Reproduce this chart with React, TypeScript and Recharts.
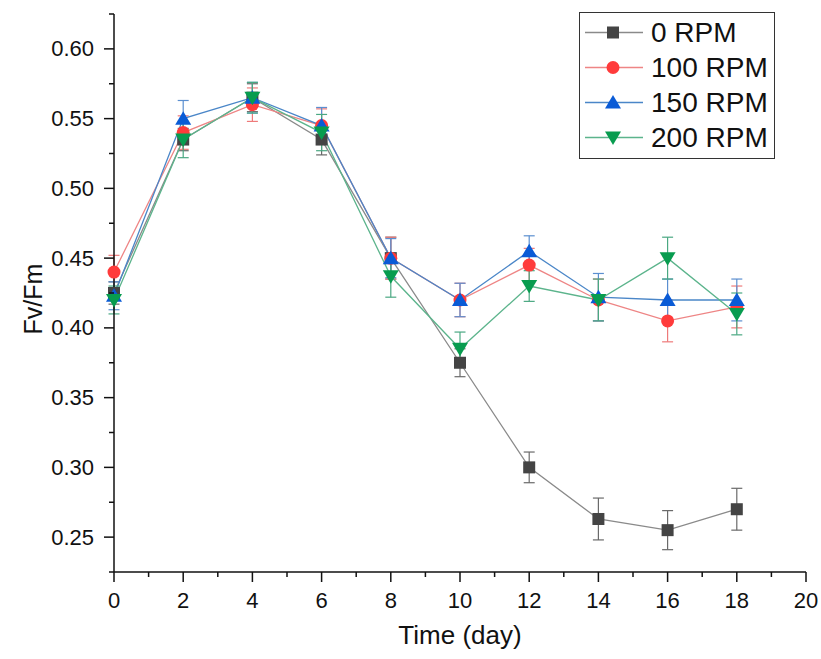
import React from 'react';
import { LineChart, Line, XAxis, YAxis, ErrorBar } from 'recharts';

// ---- data ----
const DAYS = [0, 2, 4, 6, 8, 10, 12, 14, 16, 18];

const RPM0 = [0.425, 0.535, 0.565, 0.535, 0.45, 0.375, 0.3, 0.263, 0.255, 0.27];
const RPM0_ERR = [0.008, 0.008, 0.01, 0.011, 0.015, 0.01, 0.011, 0.015, 0.014, 0.015];

const RPM100 = [0.44, 0.54, 0.56, 0.545, 0.45, 0.42, 0.445, 0.42, 0.405, 0.415];
const RPM100_ERR = [0.012, 0.012, 0.012, 0.012, 0.015, 0.012, 0.012, 0.015, 0.015, 0.015];

const RPM150 = [0.423, 0.55, 0.565, 0.545, 0.45, 0.42, 0.455, 0.422, 0.42, 0.42];
const RPM150_ERR = [0.01, 0.013, 0.011, 0.013, 0.014, 0.012, 0.011, 0.017, 0.015, 0.015];

const RPM200 = [0.42, 0.535, 0.565, 0.54, 0.437, 0.385, 0.43, 0.42, 0.45, 0.41];
const RPM200_ERR = [0.01, 0.013, 0.011, 0.013, 0.015, 0.012, 0.011, 0.015, 0.015, 0.015];

const X_MAJOR = [0, 2, 4, 6, 8, 10, 12, 14, 16, 18, 20];
const X_MINOR = [1, 3, 5, 7, 9, 11, 13, 15, 17, 19];
const Y_MAJOR = [0.25, 0.3, 0.35, 0.4, 0.45, 0.5, 0.55, 0.6];
const Y_MINOR = [0.225, 0.275, 0.325, 0.375, 0.425, 0.475, 0.525, 0.575, 0.625];

const FONT = '"Liberation Sans", Arial, sans-serif';
const INK = '#111';

const data = DAYS.map((d, i) => ({
  day: d,
  r0: RPM0[i], e0: RPM0_ERR[i],
  r100: RPM100[i], e100: RPM100_ERR[i],
  r150: RPM150[i], e150: RPM150_ERR[i],
  r200: RPM200[i], e200: RPM200_ERR[i],
}));

type Shape = 'square' | 'circle' | 'up' | 'down';

const SERIES: { key: string; err: string; name: string; shape: Shape; fill: string; line: string; bar: string }[] = [
  { key: 'r0', err: 'e0', name: '0 RPM', shape: 'square', fill: '#444', line: '#8a8a8a', bar: '#6a6a6a' },
  { key: 'r100', err: 'e100', name: '100 RPM', shape: 'circle', fill: '#ff3b3b', line: '#ee8585', bar: '#ee7a7a' },
  { key: 'r150', err: 'e150', name: '150 RPM', shape: 'up', fill: '#0a5bd6', line: '#4a86c8', bar: '#5b8fd0' },
  { key: 'r200', err: 'e200', name: '200 RPM', shape: 'down', fill: '#089c4f', line: '#5cb48c', bar: '#4aa882' },
];

const Marker = ({ cx, cy, shape, fill }: { cx: number; cy: number; shape: Shape; fill: string }) => {
  if (shape === 'square') return <rect x={cx - 6} y={cy - 6} width={12} height={12} fill={fill} />;
  if (shape === 'circle') return <circle cx={cx} cy={cy} r={6.5} fill={fill} />;
  if (shape === 'up')
    return <polygon points={`${cx},${cy - 7.5} ${cx - 8},${cy + 6} ${cx + 8},${cy + 6}`} fill={fill} />;
  return <polygon points={`${cx},${cy + 7.5} ${cx - 8},${cy - 6} ${cx + 8},${cy - 6}`} fill={fill} />;
};

const isIn = (list: number[], v: number) => list.some((t) => Math.abs(t - v) < 1e-9);

const XTick = (props: any) => {
  const { x, y, payload } = props;
  const major = isIn(X_MAJOR, payload.value);
  return (
    <g>
      <line x1={x} x2={x} y1={y} y2={y + (major ? 10 : 5)} stroke={INK} strokeWidth={1.5} />
      {major && (
        <text x={x} y={y + 36} textAnchor="middle" fontSize={22} fontFamily={FONT} fill={INK}>
          {payload.value}
        </text>
      )}
    </g>
  );
};

const YTick = (props: any) => {
  const { x, y, payload } = props;
  const major = isIn(Y_MAJOR, payload.value);
  return (
    <g>
      <line x1={x} x2={x - (major ? 10 : 5)} y1={y} y2={y} stroke={INK} strokeWidth={1.5} />
      {major && (
        <text x={x - 20} y={y + 7.5} textAnchor="end" fontSize={22} fontFamily={FONT} fill={INK}>
          {payload.value.toFixed(2)}
        </text>
      )}
    </g>
  );
};

// rotated y title, placed from the axis box
const YTitle = ({ viewBox }: any) => {
  const cx = viewBox.x + 33;
  const cy = viewBox.y + viewBox.height / 2 + 6;
  return (
    <text
      x={cx}
      y={cy}
      transform={`rotate(-90 ${cx} ${cy})`}
      textAnchor="middle"
      dominantBaseline="central"
      fontSize={25}
      fontFamily={FONT}
      fill={INK}
    >
      Fv/Fm
    </text>
  );
};

// legend drawn as a plain box over the chart so it does not shrink the plot area
const LegendBox = () => (
  <div
    style={{
      position: 'absolute',
      left: 579,
      top: 12,
      boxSizing: 'border-box',
      width: 196,
      height: 147,
      border: '1.5px solid #333',
      background: '#fff',
      padding: '2px 0 4px 0',
      fontFamily: FONT,
    }}
  >
    {SERIES.map((s) => (
      <div key={s.key} style={{ display: 'flex', alignItems: 'center', height: 35 }}>
        <svg width={68} height={35} style={{ flex: 'none' }}>
          <line x1={5} x2={63} y1={17.5} y2={17.5} stroke={s.line} strokeWidth={1.5} />
          <Marker cx={33} cy={17.5} shape={s.shape} fill={s.fill} />
        </svg>
        <span style={{ fontSize: 28, color: INK, marginLeft: 3, lineHeight: '35px', whiteSpace: 'nowrap' }}>
          {s.name}
        </span>
      </div>
    ))}
  </div>
);

export default function App() {
  return (
    <div style={{ position: 'absolute', left: 0, top: 0, width: 821, height: 659, background: '#fff' }}>
      <LineChart width={821} height={659} data={data} margin={{ top: 14, right: 15, left: 0, bottom: 0 }}>
        <XAxis
          dataKey="day"
          type="number"
          domain={[0, 20]}
          ticks={[...X_MAJOR, ...X_MINOR].sort((a, b) => a - b)}
          interval={0}
          tickSize={0}
          tickMargin={0}
          tickLine={false}
          tick={<XTick />}
          height={87}
          axisLine={{ stroke: INK, strokeWidth: 1.5 }}
          label={{
            value: 'Time (day)',
            position: 'insideBottom',
            offset: 15,
            fontSize: 26,
            fontFamily: FONT,
            fill: INK,
          }}
        />
        <YAxis
          type="number"
          domain={[0.225, 0.625]}
          ticks={[...Y_MAJOR, ...Y_MINOR].sort((a, b) => a - b)}
          interval={0}
          tickSize={0}
          tickMargin={0}
          tickLine={false}
          tick={<YTick />}
          width={114}
          allowDataOverflow
          axisLine={{ stroke: INK, strokeWidth: 1.5 }}
          label={<YTitle />}
        />
        {SERIES.map((s) => (
          <Line
            key={s.key}
            dataKey={s.key}
            name={s.name}
            type="linear"
            stroke={s.line}
            strokeWidth={1.3}
            isAnimationActive={false}
            activeDot={false}
            dot={(p: any) => <Marker key={`${s.key}-${p.index}`} cx={p.cx} cy={p.cy} shape={s.shape} fill={s.fill} />}
          >
            <ErrorBar dataKey={s.err} width={5.5} stroke={s.bar} strokeWidth={1.2} direction="y" isAnimationActive={false} />
          </Line>
        ))}
      </LineChart>
      <LegendBox />
    </div>
  );
}
